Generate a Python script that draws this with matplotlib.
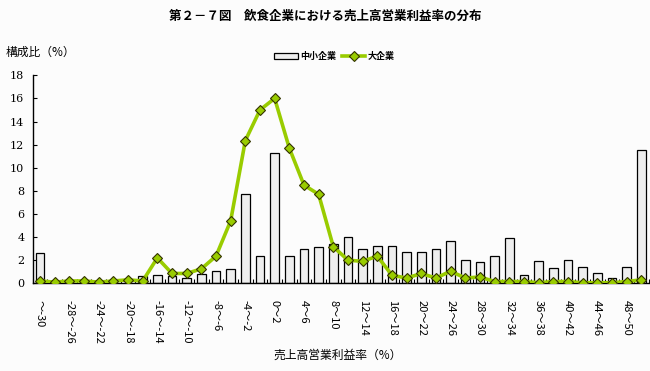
import matplotlib
matplotlib.use("Agg")
import matplotlib.pyplot as plt
import numpy as np

plt.rcParams['font.family'] = ['Noto Sans CJK JP', 'DejaVu Sans']

# categories: ~-30, -30~-28, ..., 48~50, 50~
edges = list(range(-30, 51, 2))
categories = ["～-30"] + [f"{a}～{a+2}" for a in edges[:-1]] + ["50～"]

sme = [2.6, 0, 0, 0, 0, 0, 0, 0.6, 0.7, 0.6, 0.5, 0.8, 1.05, 1.2, 7.7, 2.4, 11.3, 2.35,
       3.0, 3.1, 3.4, 4.0, 2.95, 3.2, 3.2, 2.75, 2.75, 2.95, 3.7, 2.0, 1.8, 2.35, 3.9,
       0.7, 1.9, 1.3, 2.0, 1.4, 0.85, 0.5, 1.4, 11.5]
large = [0.2, 0.1, 0.2, 0.2, 0.1, 0.2, 0.3, 0.2, 2.2, 0.85, 0.85, 1.25, 2.35, 5.4, 12.35,
         15.0, 16.0, 11.7, 8.5, 7.7, 3.17, 2.0, 1.9, 2.35, 0.7, 0.45, 0.85, 0.45, 1.05,
         0.45, 0.55, 0.15, 0.15, 0.15, 0.05, 0.15, 0.15, 0.05, 0.05, 0.05, 0.15, 0.3]

yticks = list(range(0, 19, 2))

fig = plt.figure(figsize=(6.5, 3.71), dpi=100)
fig.patch.set_facecolor('#fcfcfc')
ax = fig.add_axes([0.0503, 0.2364, 0.9475, 0.5606])
ax.set_facecolor('#fcfcfc')

x = np.arange(len(categories))
bars = ax.bar(x, sme, width=0.6, color='#eeeeee', edgecolor='black', linewidth=0.9, label='中小企業', zorder=2)
line, = ax.plot(x, large, color='#99cc00', linewidth=2.6, marker='D', markersize=5.5,
                markerfacecolor='#99cc00', markeredgecolor='#333300', markeredgewidth=0.8,
                label='大企業', zorder=3)

ax.set_xlim(-0.5, len(categories) - 0.5)
ax.set_ylim(0, 18)
ax.set_yticks(yticks)
ax.set_yticklabels([str(v) for v in yticks], fontsize=8, family=['DejaVu Serif'])
ax.tick_params(axis='y', direction='in', length=3, width=0.8, pad=6)

ax.set_xticks(x[::2])
ax.set_xticklabels(categories[::2], rotation=-90, fontsize=8, va='top', ha='center')
ax.set_xticks(np.arange(-0.5, len(categories), 1), minor=True)
ax.tick_params(axis='x', which='major', length=0, pad=12)
ax.tick_params(axis='x', which='minor', direction='in', length=3, width=0.8)

for s in ['top', 'right']:
    ax.spines[s].set_visible(False)
for s in ['left', 'bottom']:
    ax.spines[s].set_linewidth(1.0)

fig.text(0.5, 0.955, '第２－７図　飲食企業における売上高営業利益率の分布', ha='center', va='center',
         fontsize=9, fontweight='bold')
fig.text(0.008, 0.86, '構成比（%）', ha='left', va='center', fontsize=8.5)
fig.text(0.52, 0.043, '売上高営業利益率（%）', ha='center', va='center', fontsize=8.5)

fig.legend([bars, line], ['中小企業', '大企業'], loc='center', bbox_to_anchor=(0.515, 0.848),
           ncol=2, frameon=False, handlelength=2.6, handleheight=0.7, columnspacing=0.6,
           handletextpad=0.3, prop={'weight': 'bold', 'size': 6.5})

fig.savefig('out.png', dpi=100, facecolor=fig.get_facecolor())
